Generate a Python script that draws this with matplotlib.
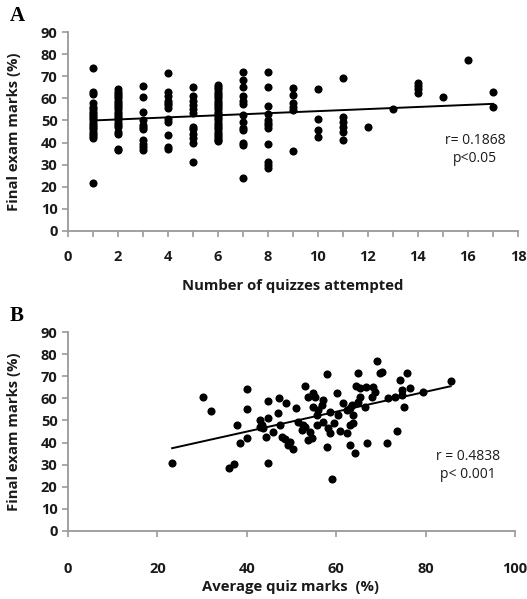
import numpy as np
import matplotlib
matplotlib.use('Agg')
import matplotlib.pyplot as plt
from matplotlib.ticker import MultipleLocator

# panel A: final exam marks grouped by number of quizzes attempted (1..17)
attempts = list(range(1, 18))
marks_by_attempts = [
    [73.5, 63, 62, 58, 56, 55, 54, 53, 52, 51, 50, 49, 48, 47, 46, 45, 44, 43, 42, 21.5],
    [64, 63, 62, 61, 60, 59, 58, 57, 56, 55, 54, 53, 52, 51, 50, 49, 48, 47, 45, 44, 37, 36.5],
    [65.5, 60.5, 54, 50, 48, 47, 46, 41, 39.5, 38, 36.5],
    [71.5, 63, 61, 59, 58, 57, 55.5, 50.5, 49.5, 43.5, 38, 37],
    [65, 61, 59, 57, 55, 53.5, 47, 46, 44, 42, 40, 31],
    [66, 65, 64, 63, 62, 61, 60, 59, 58, 57, 56, 55, 54, 53, 52, 51, 50, 49, 48, 47, 46,
     45, 44, 43, 42, 41, 40.5],
    [72, 68.5, 65, 61, 59, 57.5, 52.5, 49.5, 46.5, 45.5, 40, 39, 24],
    [72, 65, 56.5, 53, 50, 49, 48, 46.5, 39.5, 31, 30, 28.5],
    [64.5, 61.5, 58, 56, 54.5, 36],
    [64, 50.5, 45.5, 42.5],
    [69, 51.5, 49.5, 47, 45, 41],
    [47],
    [55],
    [67, 65.5, 64, 62.5],
    [60.5],
    [77.5],
    [63, 56],
]

# panel B: average quiz mark vs final exam mark
avg_quiz = [23.3, 30.1, 32, 40, 40, 37.9, 38.5, 40.1, 36, 37.1, 44.7, 44.7, 47.1, 48.8, 47,
            44.8, 43, 43.3, 43, 43.7, 45.9, 44.4, 47.4, 47.8, 48.5, 49.3, 50.9, 53, 53.8,
            54.9, 55.3, 58, 60.1, 61.6, 64.9, 69.1, 69.8, 64.4, 65.3, 66.7, 68.3, 68.7, 67.9,
            74.3, 75.8, 71.7, 73.2, 74.7, 75.2, 73.7, 71.3, 67, 63.1, 64.2, 59, 57.9, 60.9,
            62.4, 63.1, 63.8, 59.4, 58.2, 58.6, 57.1, 55.6, 54.1, 54.5, 53.8, 52.6, 52.3, 53,
            51.5, 54.9, 56, 56.8, 57.1, 55.6, 58.6, 60.5, 62.4, 63.5, 64.9, 65.3, 66.4, 49.7,
            50.3, 63.8, 63.1, 85.6, 79.5, 74.7, 76.5, 70.2]
final_marks = [30.6, 60.8, 54.4, 64.4, 55.2, 47.8, 40, 41.9, 28.5, 30.3, 30.6, 58.7, 60.3,
               57.8, 53.3, 51, 50.2, 48, 47.2, 46.5, 44.9, 42.4, 48, 42.4, 41.5, 38.9, 55.5,
               65.6, 60.8, 62.3, 60.8, 71, 62.3, 57.8, 71.6, 77.1, 71.6, 65.6, 64.6, 65, 65.3,
               63, 60.8, 68.3, 71.4, 60, 60.8, 61.5, 56, 45.4, 40, 40, 38.9, 35.2, 23.4, 37.9,
               45.4, 44.2, 48, 48.7, 48.7, 46.5, 44.2, 49.5, 48, 44.9, 41.9, 41.2, 48, 45.7,
               47.2, 49.5, 56.2, 54.8, 57, 59.3, 52.5, 54, 52.5, 54.8, 57, 58.5, 60.8, 56.2,
               40.4, 37, 52.5, 55.5, 68, 62.8, 63.8, 64.6, 72.1]

plt.rcParams['font.family'] = ['Open Sans', 'DejaVu Sans']
AXCOL = '#999999'
TXT = '#1a1a1a'


def style_axis(ax):
    for s in ['top', 'right']:
        ax.spines[s].set_visible(False)
    for s in ['left', 'bottom']:
        ax.spines[s].set_color(AXCOL)
        ax.spines[s].set_linewidth(1.3)
    ax.tick_params(which='both', direction='out', length=4, width=1.2, color=AXCOL,
                   labelcolor=TXT, labelsize=10.5)
    ax.set_ylim(0, 90)
    ax.yaxis.set_major_locator(MultipleLocator(10))


def bold_ticks(ax):
    for lab in ax.get_xticklabels() + ax.get_yticklabels():
        lab.set_fontweight('bold')


fig = plt.figure(figsize=(5.27, 5.99), dpi=100)

# ---- panel A
ax1 = fig.add_axes([68/527, 1-231/599, 450/527, 199/599])
xa = np.concatenate([[a]*len(m) for a, m in zip(attempts, marks_by_attempts)])
ya = np.concatenate(marks_by_attempts)
ax1.scatter(xa, ya, s=34, color='black', zorder=3, linewidths=0)
k, b = np.polyfit(xa, ya, 1)
xx = np.array([xa.min(), xa.max()])
ax1.plot(xx, k*xx + b, color='black', lw=1.4, zorder=2)
ax1.set_xlim(0, 18)
ax1.xaxis.set_major_locator(MultipleLocator(2))
ax1.xaxis.set_minor_locator(MultipleLocator(1))
style_axis(ax1)
ax1.tick_params(axis='x', which='major', pad=10)
bold_ticks(ax1)
ax1.set_ylabel('Final exam marks (%)', fontweight='bold', fontsize=10.7, color=TXT)
ax1.yaxis.set_label_coords(-0.104, 0.5)
ax1.set_xlabel('Number of quizzes attempted', fontweight='bold', fontsize=10.7, color=TXT)
ax1.xaxis.set_label_coords(0.5, -0.24)
ax1.text(0.905, 0.41, 'r= 0.1868\np<0.05', transform=ax1.transAxes, ha='center', va='center',
         fontsize=10, color=TXT, linespacing=1.25)
fig.text(10/527, 1-16/599, 'A', fontfamily='Liberation Serif', fontweight='bold', fontsize=15,
         va='center', ha='left')

# ---- panel B
ax2 = fig.add_axes([68/527, 1-531/599, 447/527, 199/599])
ax2.scatter(avg_quiz, final_marks, s=34, color='black', zorder=3, linewidths=0)
k2, b2 = np.polyfit(avg_quiz, final_marks, 1)
xb = np.array([min(avg_quiz), max(avg_quiz)])
ax2.plot(xb, k2*xb + b2, color='black', lw=1.4, zorder=2)
ax2.set_xlim(0, 100)
ax2.xaxis.set_major_locator(MultipleLocator(20))
style_axis(ax2)
ax2.tick_params(axis='x', which='major', pad=18)
bold_ticks(ax2)
ax2.set_ylabel('Final exam marks (%)', fontweight='bold', fontsize=10.7, color=TXT)
ax2.yaxis.set_label_coords(-0.105, 0.5)
ax2.set_xlabel('Average quiz marks  (%)', fontweight='bold', fontsize=10.7, color=TXT)
ax2.xaxis.set_label_coords(0.497, -0.245)
ax2.text(0.895, 0.33, 'r = 0.4838\np< 0.001', transform=ax2.transAxes, ha='center', va='center',
         fontsize=10, color=TXT, linespacing=1.25)
fig.text(10/527, 1-316/599, 'B', fontfamily='Liberation Serif', fontweight='bold', fontsize=15,
         va='center', ha='left')

fig.savefig('out.png', dpi=100)
